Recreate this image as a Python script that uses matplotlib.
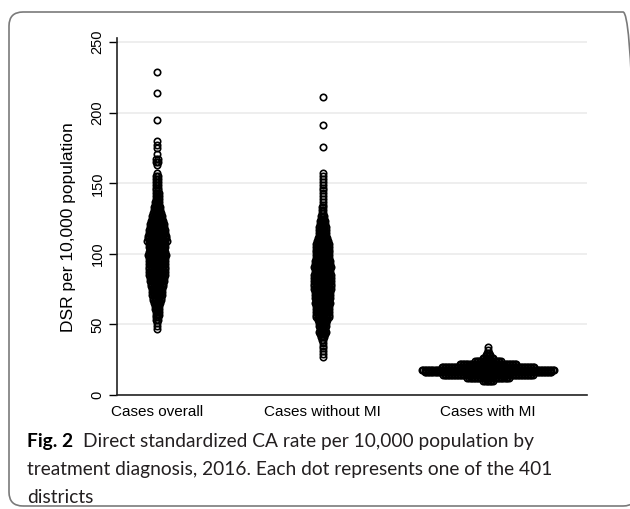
import numpy as np
import matplotlib.pyplot as plt
from matplotlib.patches import FancyBboxPatch

# dot plot of DSR per 10,000 population, 401 districts per group
# each group: bin value (DSR) and number of districts stacked side by side in that bin
groups = ['Cases overall', 'Cases without MI', 'Cases with MI']

overall_vals = [47, 49, 51, 53, 55, 57, 59, 61, 63,
                65, 67, 69, 71, 73, 75, 77, 79, 81, 83,
                85, 87, 89, 91, 93, 95, 97, 99, 101, 103,
                105, 107, 109, 111, 113, 115, 117, 119, 121, 123,
                125, 127, 129, 131, 133, 135, 137, 139, 141, 143,
                145, 147, 149, 151, 153, 155, 157,
                163, 165, 167, 171, 175, 177, 180, 195, 214, 229]
overall_counts = [1, 1, 1, 2, 2, 3, 3, 4, 4,
                  5, 6, 6, 7, 8, 8, 9, 9, 10, 10,
                  11, 11, 11, 11, 11, 12, 12, 13, 11, 10,
                  12, 12, 14, 13, 13, 12, 11, 10, 10, 9,
                  8, 7, 6, 5, 5, 4, 4, 3, 3, 3,
                  2, 2, 2, 2, 2, 2, 1,
                  1, 2, 2, 1, 1, 1, 1, 1, 1, 1]

without_mi_vals = [27, 29, 31, 33, 35, 37,
                   39, 41, 43, 45, 47, 49,
                   51, 53, 55, 57, 59,
                   61, 63, 65, 67, 69,
                   71, 73, 75, 77, 79,
                   81, 83, 85, 87, 89,
                   91, 93, 95, 97, 99,
                   101, 103, 105, 107, 109,
                   111, 113, 115, 117, 119,
                   121, 123, 125, 127, 129,
                   131, 133, 135, 137, 139,
                   141, 143, 145, 147, 149, 151, 153, 155, 157,
                   176, 191, 211]
without_mi_counts = [1, 1, 1, 1, 1, 1,
                     2, 3, 4, 5, 4, 5,
                     6, 7, 9, 9, 10,
                     10, 10, 11, 10, 11,
                     11, 11, 12, 12, 12,
                     12, 12, 12, 11, 11,
                     12, 11, 11, 10, 10,
                     10, 9, 9, 9, 8,
                     7, 6, 6, 5, 5,
                     4, 4, 3, 3, 2,
                     2, 2, 1, 1, 1,
                     1, 1, 1, 1, 1, 1, 1, 1, 1,
                     1, 1, 1]

with_mi_vals = [10, 12, 14, 16, 18, 20, 22, 24, 26, 28, 30, 32, 34]
with_mi_counts = [7, 28, 60, 84, 88, 62, 38, 18, 8, 4, 2, 1, 1]

yticks = [0, 50, 100, 150, 200, 250]
ylabel = 'DSR per 10,000 population'

DOT_STEP = 0.0092   # horizontal gap between stacked dots (data units)

fig = plt.figure(figsize=(6.3, 5.09), dpi=100)
ax = fig.add_axes([117 / 630, 114 / 509, 470 / 630, 357 / 509])

series = [(overall_vals, overall_counts),
          (without_mi_vals, without_mi_counts),
          (with_mi_vals, with_mi_counts)]
for pos, (vals, counts) in enumerate(series, start=1):
    xs, ys = [], []
    for v, n in zip(vals, counts):
        offs = (np.arange(n) - (n - 1) / 2) * DOT_STEP
        xs.extend(pos + offs)
        ys.extend([v] * n)
    ax.plot(xs, ys, linestyle='None', marker='o', markersize=4.6,
            markerfacecolor='none', markeredgecolor='black',
            markeredgewidth=1.2)

ax.set_xlim(0.758, 3.598)
ax.set_ylim(0, 253)
ax.set_xticks([1, 2, 3])
ax.set_xticklabels(groups, fontsize=11, family='Liberation Sans')
ax.tick_params(axis='x', length=0, pad=7)
ax.set_yticks(yticks)
ax.set_yticklabels([str(t) for t in yticks], rotation=90, va='center',
                   fontsize=10.5, family='Liberation Sans')
ax.tick_params(axis='y', length=6, width=1.0, direction='out', pad=3)
ax.set_ylabel(ylabel, fontsize=12.5, family='Liberation Sans')
ax.yaxis.set_label_coords(-41 / 470, 0.47)

ax.yaxis.grid(True, color='#ebebeb', linewidth=1.2)
ax.set_axisbelow(True)
for side in ['top', 'right']:
    ax.spines[side].set_visible(False)
for side in ['left', 'bottom']:
    ax.spines[side].set_linewidth(1.2)
    ax.spines[side].set_color('#222222')

# rounded frame around the figure and caption
frame = FancyBboxPatch((9 / 100, 3 / 100), 6.28, 4.94,
                       boxstyle='round,pad=0,rounding_size=0.14',
                       transform=fig.dpi_scale_trans, fill=False,
                       edgecolor='#7a7a7a', linewidth=1.2, clip_on=False)
fig.patches.append(frame)

cap_font = 'Lato'
cap_size = 13.8
fig_lbl = fig.text(27 / 630, 1 - 447 / 509, 'Fig. 2', fontsize=cap_size,
                   fontweight='bold', family=cap_font, va='baseline',
                   color='black')
renderer = fig.canvas.get_renderer()
lbl_right = fig_lbl.get_window_extent(renderer).x1
fig.text((lbl_right + 10) / 630, 1 - 447 / 509,
         'Direct standardized CA rate per 10,000 population by',
         fontsize=cap_size, family=cap_font, va='baseline', color='#231f20')
fig.text(27 / 630, 1 - 475 / 509,
         'treatment diagnosis, 2016. Each dot represents one of the 401',
         fontsize=cap_size, family=cap_font, va='baseline', color='#231f20')
fig.text(27 / 630, 1 - 503 / 509, 'districts',
         fontsize=cap_size, family=cap_font, va='baseline', color='#231f20')

fig.savefig('out.png', dpi=100)
